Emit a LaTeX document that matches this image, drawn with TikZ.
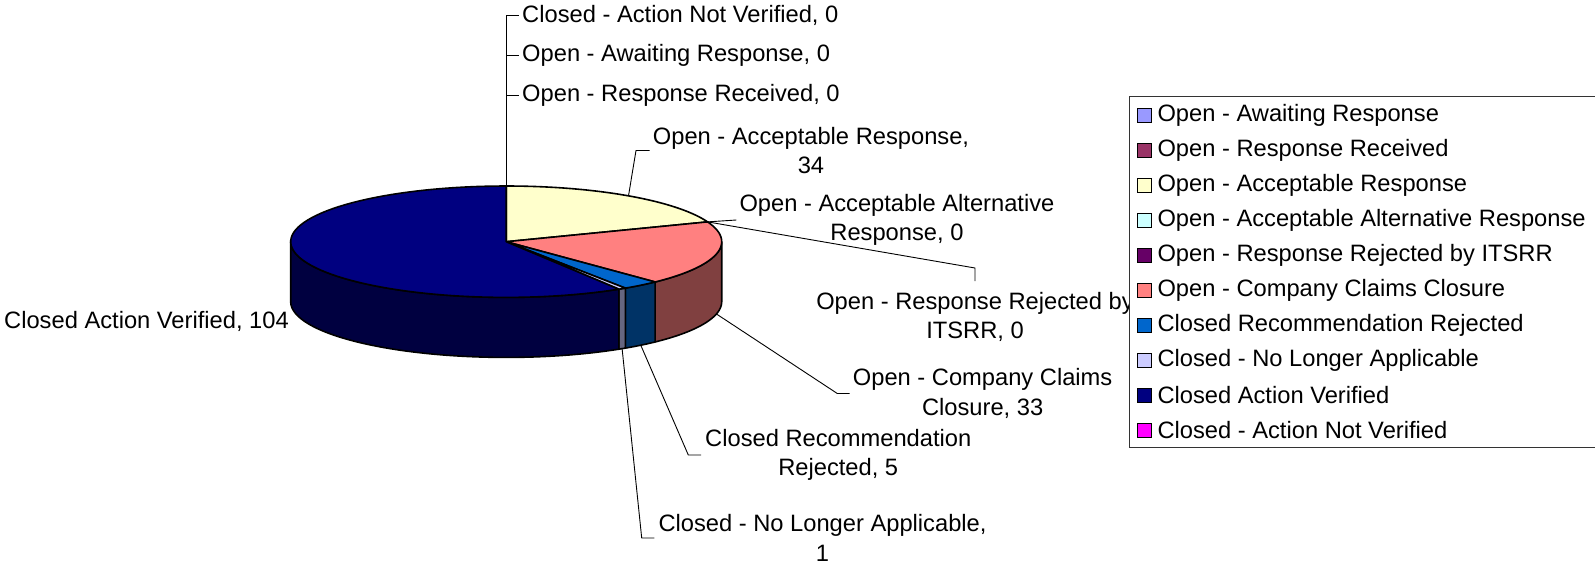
\documentclass[tikz,border=0pt]{standalone}
\usepackage{fontspec}
\setmainfont{Liberation Sans}
% slice colours (top face) and darker side shades
\definecolor{cAwait}{HTML}{9999FF}
\definecolor{cRecv}{HTML}{993366}
\definecolor{cAccept}{HTML}{FFFFCC}
\definecolor{cAlt}{HTML}{CCFFFF}
\definecolor{cRej}{HTML}{660066}
\definecolor{cClaim}{HTML}{FF8080}
\definecolor{cRecRej}{HTML}{0066CC}
\definecolor{cNLA}{HTML}{CCCCFF}
\definecolor{cCAV}{HTML}{000080}
\definecolor{cANV}{HTML}{FF00FF}
\definecolor{cClaimS}{HTML}{804040}
\definecolor{cRecRejS}{HTML}{003366}
\definecolor{cNLAS}{HTML}{666680}
\definecolor{cCAVS}{HTML}{000040}
% pie geometry: centre, radii of the top ellipse, thickness
\def\cx{506.2}\def\cy{241.7}\def\rx{215.5}\def\ry{55.7}\def\dz{60}
% top face of a slice between two angles
\newcommand\pietop[3]{%
  \filldraw[slice, fill=#3] (\cx,\cy) -- plot[domain=#1:#2, samples=80]
    ({\cx+\rx*cos(\x)},{\cy-\ry*sin(\x)}) -- cycle;}
% front wall of a slice between two angles
\newcommand\pieside[3]{%
  \filldraw[slice, fill=#3] plot[domain=#1:#2, samples=60]
    ({\cx+\rx*cos(\x)},{\cy-\ry*sin(\x)})
    -- plot[domain=#2:#1, samples=60]
    ({\cx+\rx*cos(\x)},{\cy+\dz-\ry*sin(\x)}) -- cycle;}
\begin{document}
\begin{tikzpicture}[x=1pt,y=-1pt,
  every node/.style={inner sep=0pt, font=\fontsize{23.7}{29.5}\selectfont},
  lbl/.style={align=center},
  leader/.style={draw=black, line width=0.9pt},
  slice/.style={draw=black, line width=1.6pt, line join=round},
  key/.style={draw=black, line width=1pt, minimum size=14pt, inner sep=0pt}]
\useasboundingbox (0,0) rectangle (1595,566);
% slice boundaries, clockwise from twelve o'clock (total 177)
\pgfmathsetmacro\aA{90-360*34/177}
\pgfmathsetmacro\aB{\aA-360*33/177}
\pgfmathsetmacro\aC{\aB-360*5/177}
\pgfmathsetmacro\aD{\aC-360*1/177}
% front walls
\pieside{\aB}{0}{cClaimS}
\pieside{\aC}{\aB}{cRecRejS}
\pieside{\aD}{\aC}{cNLAS}
\pieside{-180}{\aD}{cCAVS}
% top faces
\pietop{\aA}{90}{cAccept}
\pietop{\aB}{\aA}{cClaim}
\pietop{\aC}{\aB}{cRecRej}
\pietop{\aD}{\aC}{cNLA}
\pietop{-270}{\aD}{cCAV}

% anchor points of the leader lines on the pie
\pgfmathsetmacro\mAcc{(90+\aA)/2}
\pgfmathsetmacro\mClaim{(\aA+\aB)/2}
\pgfmathsetmacro\mRecRej{(\aB+\aC)/2}
\pgfmathsetmacro\mNLA{(\aC+\aD)/2}
\coordinate (pTop) at (\cx,{\cy-\ry});
\coordinate (pAcc) at ({\cx+\rx*cos(\mAcc)},{\cy-\ry*sin(\mAcc)});
\coordinate (pAlt) at ({\cx+\rx*cos(\aA)},{\cy-\ry*sin(\aA)});
\coordinate (pClaim) at ({\cx+\rx*cos(\mClaim)},{\cy+\dz-\ry*sin(\mClaim)});
\coordinate (pRecRej) at ({\cx+\rx*cos(\mRecRej)},{\cy+\dz-\ry*sin(\mRecRej)});
\coordinate (pNLA) at ({\cx+\rx*cos(\mNLA)},{\cy+\dz-\ry*sin(\mNLA)});

% data labels
\node[anchor=west] (lblANV) at (522,15) {Closed - Action Not Verified, 0};
\node[anchor=west] (lblAwait) at (522,55) {Open - Awaiting Response, 0};
\node[anchor=west] (lblRecv) at (522,95.5) {Open - Response Received, 0};
\node[lbl, anchor=west] (lblAcc) at (652.7,150.5) {Open - Acceptable Response,\\34};
\node[lbl, anchor=west] (lblAlt) at (739.3,220) {Open - Acceptable Alternative\\Response, 0};
\node[lbl, anchor=north] (lblRej) at (975,292) {Open - Response Rejected by\\ITSRR, 0};
\node[lbl, anchor=west] (lblClaim) at (852.7,393.5) {Open - Company Claims\\Closure, 33};
\node[lbl, anchor=west] (lblRecRej) at (705,455) {Closed Recommendation\\Rejected, 5};
\node[lbl, anchor=west] (lblNLA) at (658.3,538) {Closed - No Longer Applicable,\\1};
\node[anchor=west] (lblCAV) at (4,321.7) {Closed Action Verified, 104};

% leader lines
\draw[leader] (pTop) |- ([xshift=-3pt]lblANV.west);
\draw[leader] (pTop) |- ([xshift=-3pt]lblAwait.west);
\draw[leader] (pTop) |- ([xshift=-3pt]lblRecv.west);
\coordinate (bAcc) at (636,150.5);
\draw[leader] (pAcc) -- (bAcc) -- ([xshift=-3pt]lblAcc.west);
\draw[leader] (pAlt) -- ([xshift=-3pt]lblAlt.west);
\draw[leader] (pAlt) -- ([yshift=24pt]lblRej.north) -- ([yshift=11pt]lblRej.north);
\coordinate (bClaim) at (837.3,393.5);
\draw[leader] (pClaim) -- (bClaim) -- ([xshift=-3pt]lblClaim.west);
\coordinate (bRecRej) at (688.3,455);
\draw[leader] (pRecRej) -- (bRecRej) -- ([xshift=-4pt]lblRecRej.west);
\coordinate (bNLA) at (641.7,538);
\draw[leader] (pNLA) -- (bNLA) -- ([xshift=-4pt]lblNLA.west);

% legend
\draw[black!80, line width=1pt, fill=white] (1129.5,96) rectangle (1600,447.5);
\foreach \i/\c/\t in {0/cAwait/Open - Awaiting Response,
                      1/cRecv/Open - Response Received,
                      2/cAccept/Open - Acceptable Response,
                      3/cAlt/Open - Acceptable Alternative Response,
                      4/cRej/Open - Response Rejected by ITSRR,
                      5/cClaim/Open - Company Claims Closure,
                      6/cRecRej/Closed Recommendation Rejected,
                      7/cNLA/Closed - No Longer Applicable,
                      8/cCAV/Closed Action Verified,
                      9/cANV/Closed - Action Not Verified}{
  \node[key, fill=\c] (key\i) at (1144.2,{115+35*\i}) {};
  \node[anchor=west] (ktxt\i) at (1157.3,{115+35*\i}) {\t};
}
\end{tikzpicture}
\end{document}
